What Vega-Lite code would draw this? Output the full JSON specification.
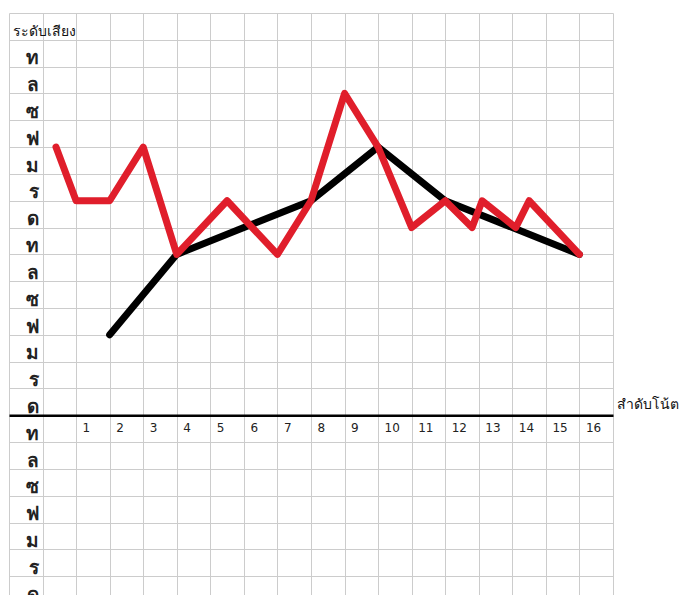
{
  "$schema": "https://vega.github.io/schema/vega-lite/v6.json",
  "width": 604,
  "height": 582,
  "autosize": {"type": "none"},
  "padding": {"left": 9, "top": 13, "right": 84, "bottom": 0},
  "background": "white",
  "config": {
    "view": {"stroke": null},
    "font": "DejaVu Sans"
  },
  "datasets": {
    "contour": [
      {"note": 2, "pitch": 3},
      {"note": 4, "pitch": 6},
      {"note": 6, "pitch": 7},
      {"note": 8, "pitch": 8},
      {"note": 10, "pitch": 10},
      {"note": 12, "pitch": 8},
      {"note": 14, "pitch": 7},
      {"note": 16, "pitch": 6}
    ],
    "melody": [
      {"note": 0.4, "pitch": 10},
      {"note": 1, "pitch": 8},
      {"note": 2, "pitch": 8},
      {"note": 3, "pitch": 10},
      {"note": 4, "pitch": 6},
      {"note": 5.5, "pitch": 8},
      {"note": 7, "pitch": 6},
      {"note": 8, "pitch": 8},
      {"note": 9, "pitch": 12},
      {"note": 10, "pitch": 10},
      {"note": 11, "pitch": 7},
      {"note": 12, "pitch": 8},
      {"note": 12.8, "pitch": 7},
      {"note": 13.1, "pitch": 8},
      {"note": 14.1, "pitch": 7},
      {"note": 14.5, "pitch": 8},
      {"note": 16, "pitch": 6}
    ]
  },
  "encoding": {
    "x": {
      "field": "note",
      "type": "quantitative",
      "scale": {"domain": [-1, 17], "nice": false, "zero": false},
      "axis": {
        "orient": "bottom",
        "offset": -179.7,
        "values": [-1, 0, 1, 2, 3, 4, 5, 6, 7, 8, 9, 10, 11, 12, 13, 14, 15, 16, 17],
        "grid": true,
        "gridColor": "#cccccc",
        "gridWidth": 1,
        "ticks": false,
        "domain": true,
        "domainColor": "#000000",
        "domainWidth": 2.5,
        "labelExpr": "datum.value >= 1 && datum.value <= 16 ? datum.label : ''",
        "labelAlign": "left",
        "labelBaseline": "middle",
        "labelOffset": 6,
        "labelPadding": 12,
        "labelFlush": false,
        "labelOverlap": false,
        "labelFont": "DejaVu Sans",
        "labelFontSize": 12,
        "labelColor": "#222222",
        "title": "สำดับโน้ต",
        "titleX": 607,
        "titleY": -7,
        "titleAlign": "left",
        "titleBaseline": "alphabetic",
        "titleFontSize": 14,
        "titleFontWeight": "normal",
        "titleColor": "#111111"
      }
    },
    "y": {
      "field": "pitch",
      "type": "quantitative",
      "scale": {"domain": [-6.7, 15], "nice": false, "zero": false},
      "axis": {
        "orient": "left",
        "offset": -33.5,
        "values": [-6, -5, -4, -3, -2, -1, 0, 1, 2, 3, 4, 5, 6, 7, 8, 9, 10, 11, 12, 13, 14, 15],
        "grid": true,
        "gridColor": "#cccccc",
        "gridWidth": 1,
        "ticks": false,
        "domain": false,
        "labelExpr": "datum.value >= 15 ? '' : ['ด','ร','ม','ฟ','ซ','ล','ท'][((datum.value - 1) % 7 + 7) % 7]",
        "labelAlign": "right",
        "labelBaseline": "alphabetic",
        "labelOffset": 24,
        "labelPadding": 4.5,
        "labelOverlap": false,
        "labelFlush": false,
        "labelFontSize": 19,
        "labelFontWeight": "bold",
        "labelColor": "#222222",
        "title": "ระดับเสียง",
        "titleAngle": 0,
        "titleX": -30.5,
        "titleY": 22,
        "titleAlign": "left",
        "titleBaseline": "alphabetic",
        "titleFontSize": 14,
        "titleFontWeight": "normal",
        "titleColor": "#111111"
      }
    }
  },
  "layer": [
    {
      "mark": {"type": "rule", "color": "#000000", "strokeWidth": 2.5},
      "encoding": {
        "x": {"datum": 0},
        "y": {"datum": 14},
        "y2": {"datum": -6.7}
      }
    },
    {
      "data": {"name": "contour"},
      "mark": {"type": "line", "color": "#000000", "strokeWidth": 7, "strokeCap": "round", "strokeJoin": "round"}
    },
    {
      "data": {"name": "melody"},
      "mark": {"type": "line", "color": "#e01e2b", "strokeWidth": 7, "strokeCap": "round", "strokeJoin": "round"}
    }
  ]
}
